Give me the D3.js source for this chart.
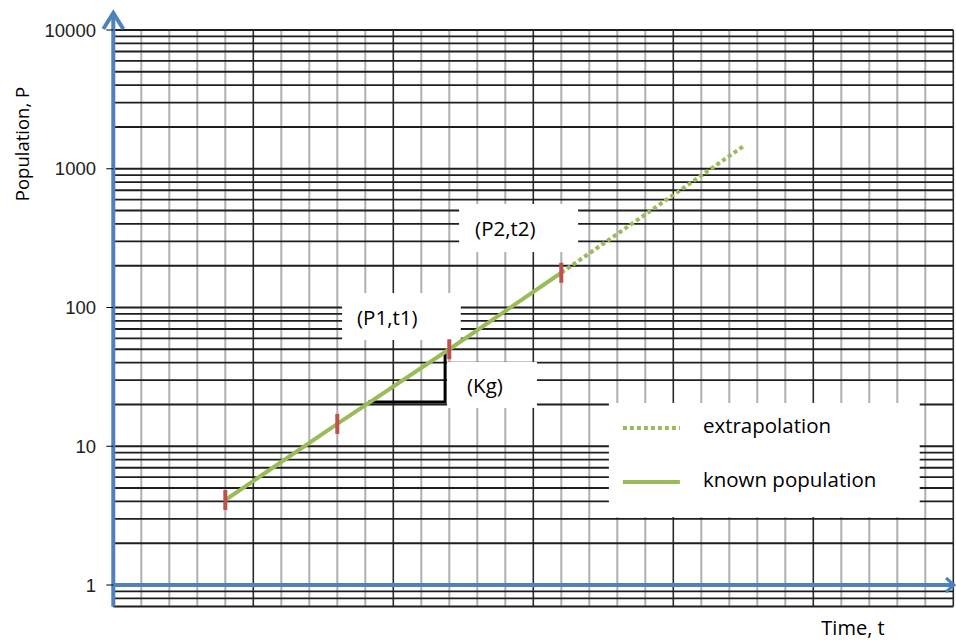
<!DOCTYPE html>
<meta charset="utf-8">
<script src="https://d3js.org/d3.v7.min.js"></script>
<style>
  body { margin: 0; background: #fff; }
  text { fill: #000; }
</style>
<body>
<svg id="svg" width="956" height="640"></svg>
<script>
// data
var decadeLabels = ["1", "10", "100", "1000", "10000"];
var knownT = [4, 8, 12, 16];
var knownP = [4.1, 14.5, 50, 178];
var extraT = [16, 22.5];
var extraP = [178, 1450];
var boxLabels = ["(P1,t1)", "(P2,t2)", "(Kg)"];
var legendLabels = ["extrapolation", "known population"];

var svg = d3.select("#svg");

var x = d3.scaleLinear().domain([0, 30]).range([113.3, 953.3]);
var y = d3.scaleLog().domain([1, 10000]).range([585, 30]);

var blue = "#4f81bd", green = "#9bbb59", red = "#c0504d";
var labelFont = "'Open Sans', 'Noto Sans', sans-serif";

// grid values
var hVals = [0.7, 0.8, 0.9];
[1, 10, 100, 1000].forEach(function(d) {
  for (var k = 1; k < 10; k++) hVals.push(d * k);
});
hVals.push(10000);
var vVals = d3.range(0, 31);

var grid = svg.append("g");
grid.selectAll("line.v")
  .data(vVals)
  .enter().append("line")
    .attr("x1", function(d) { return x(d); })
    .attr("x2", function(d) { return x(d); })
    .attr("y1", y(10000))
    .attr("y2", y(0.7))
    .attr("stroke", function(d) { return d % 5 == 0 ? "#2a2a2a" : "#b0b0b0"; })
    .attr("stroke-width", function(d) { return d % 5 == 0 ? 1.6 : 2; });

grid.selectAll("line.h")
  .data(hVals)
  .enter().append("line")
    .attr("x1", x(0))
    .attr("x2", x(30))
    .attr("y1", function(d) { return y(d); })
    .attr("y2", function(d) { return y(d); })
    .attr("stroke", "#1e1e1e")
    .attr("stroke-width", 1.8);

// white label boxes (data space corners)
var boxes = [
  { t0: 8.17, t1: 12.41, p0: 58.3, p1: 127, pad: 15 },
  { t0: 12.35, t1: 16.6, p0: 251, p1: 557, pad: 16 },
  { t0: 11.92, t1: 15.13, p0: 18.9, p1: 40.5, pad: 20 }
];
boxes.forEach(function(b, i) {
  svg.append("rect")
    .attr("x", x(b.t0)).attr("y", y(b.p1))
    .attr("width", x(b.t1) - x(b.t0))
    .attr("height", y(b.p0) - y(b.p1))
    .attr("fill", "#fff");
  svg.append("text")
    .attr("x", x(b.t0) + b.pad)
    .attr("y", (y(b.p0) + y(b.p1)) / 2)
    .attr("dominant-baseline", "central")
    .style("font-family", labelFont)
    .style("font-size", "20.5px")
    .text(boxLabels[i]);
});

// legend box
var lg = { t0: 17.7, t1: 28.8, p0: 3.09, p1: 20.5 };
svg.append("rect")
  .attr("x", x(lg.t0)).attr("y", y(lg.p1))
  .attr("width", x(lg.t1) - x(lg.t0))
  .attr("height", y(lg.p0) - y(lg.p1))
  .attr("fill", "#fff");
var legendY = [y(lg.p1) + 25, y(lg.p1) + 79];
legendLabels.forEach(function(lab, i) {
  svg.append("line")
    .attr("x1", x(lg.t0) + 14).attr("x2", x(lg.t0) + 71)
    .attr("y1", legendY[i]).attr("y2", legendY[i])
    .attr("stroke", green)
    .attr("stroke-width", 4)
    .attr("stroke-dasharray", i == 0 ? "4,3" : null);
  svg.append("text")
    .attr("x", x(lg.t0) + 94)
    .attr("y", legendY[i] - 3)
    .attr("dominant-baseline", "central")
    .style("font-family", labelFont)
    .style("font-size", "20.5px")
    .text(lab);
});

// slope triangle
var triT = [9.1, 11.85, 11.85];
var triP = [20.8, 20.8, 47];
svg.append("path")
  .attr("d", d3.line()(triT.map(function(t, i) { return [x(t), y(triP[i])]; })))
  .attr("fill", "none")
  .attr("stroke", "#000")
  .attr("stroke-width", 3);

// population lines
var line = d3.line()
  .x(function(d) { return x(d[0]); })
  .y(function(d) { return y(d[1]); });

svg.append("path")
  .datum(extraT.map(function(t, i) { return [t, extraP[i]]; }))
  .attr("d", line)
  .attr("fill", "none")
  .attr("stroke", green)
  .attr("stroke-width", 4)
  .attr("stroke-dasharray", "4,3");

svg.append("path")
  .datum(knownT.map(function(t, i) { return [t, knownP[i]]; }))
  .attr("d", line)
  .attr("fill", "none")
  .attr("stroke", green)
  .attr("stroke-width", 4);

svg.selectAll("line.mark")
  .data(knownT)
  .enter().append("line")
    .attr("x1", function(d) { return x(d); })
    .attr("x2", function(d) { return x(d); })
    .attr("y1", function(d, i) { return y(knownP[i]) - 10; })
    .attr("y2", function(d, i) { return y(knownP[i]) + 10; })
    .attr("stroke", red)
    .attr("stroke-width", 4);

// blue axes
svg.append("line")
  .attr("x1", x(0)).attr("x2", x(0))
  .attr("y1", 13).attr("y2", y(0.7))
  .attr("stroke", blue).attr("stroke-width", 4);
svg.append("path")
  .attr("d", "M" + (x(0) - 10) + ",29L" + x(0) + ",13L" + (x(0) + 10) + ",29")
  .attr("fill", "none").attr("stroke", blue).attr("stroke-width", 4);
svg.append("line")
  .attr("x1", x(0)).attr("x2", 954)
  .attr("y1", y(1)).attr("y2", y(1))
  .attr("stroke", blue).attr("stroke-width", 4);
svg.append("path")
  .attr("d", "M946," + (y(1) - 7) + "L954," + y(1) + "L946," + (y(1) + 7))
  .attr("fill", "none").attr("stroke", blue).attr("stroke-width", 3);

// y ticks and labels
decadeLabels.forEach(function(lab) {
  var v = +lab;
  svg.append("line")
    .attr("x1", x(0) - 7).attr("x2", x(0))
    .attr("y1", y(v)).attr("y2", y(v))
    .attr("stroke", "#000").attr("stroke-width", 1);
  svg.append("text")
    .attr("x", 96)
    .attr("y", y(v))
    .attr("text-anchor", "end")
    .attr("dominant-baseline", "central")
    .style("font-family", "'Liberation Sans', Arial, sans-serif")
    .style("font-size", "18.5px")
    .style("fill", "#222")
    .text(lab);
});

// axis titles
svg.append("text")
  .attr("transform", "translate(21,144) rotate(-90)")
  .attr("text-anchor", "middle")
  .attr("dominant-baseline", "central")
  .style("font-family", labelFont)
  .style("font-size", "18.5px")
  .text("Population, P");

svg.append("text")
  .attr("x", 853)
  .attr("y", 635)
  .attr("text-anchor", "middle")
  .style("font-family", labelFont)
  .style("font-size", "20px")
  .text("Time, t");
</script>
</body>
